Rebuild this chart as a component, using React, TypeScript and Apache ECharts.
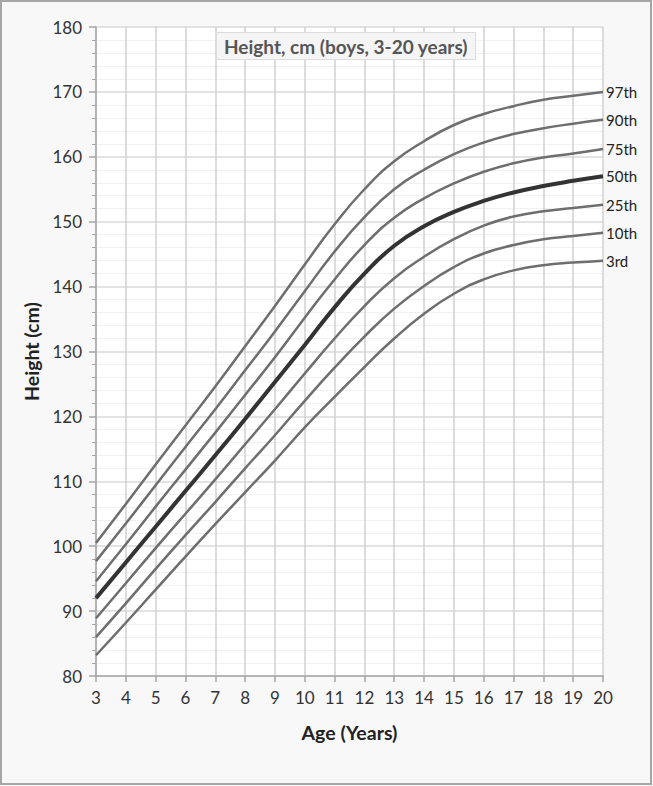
import React, { useEffect, useRef } from "react";
import * as echarts from "echarts";

const ages = [3, 4, 5, 6, 7, 8, 9, 10, 11, 12, 13, 14, 15, 16, 17, 18, 19, 20];
const p97 = [100.5, 106.5, 112.6, 118.6, 124.6, 130.8, 137.0, 143.4, 149.6, 155.0, 159.3, 162.4, 164.9, 166.6, 167.8, 168.8, 169.4, 170.0];
const p90 = [97.7, 103.5, 109.4, 115.3, 121.1, 127.1, 133.1, 139.3, 145.4, 150.7, 155.0, 158.0, 160.4, 162.2, 163.5, 164.4, 165.1, 165.7];
const p75 = [94.6, 100.3, 106.1, 111.8, 117.5, 123.3, 129.1, 135.2, 141.1, 146.4, 150.6, 153.6, 155.9, 157.7, 159.0, 159.9, 160.5, 161.2];
const p50 = [92.0, 97.5, 103.0, 108.5, 114.0, 119.6, 125.3, 131.0, 136.8, 142.0, 146.3, 149.3, 151.5, 153.2, 154.5, 155.5, 156.3, 157.0];
const p25 = [88.9, 94.3, 99.7, 105.0, 110.3, 115.7, 121.1, 126.6, 132.0, 137.0, 141.3, 144.6, 147.3, 149.4, 150.8, 151.6, 152.1, 152.6];
const p10 = [86.0, 91.2, 96.5, 101.7, 106.8, 112.0, 117.1, 122.4, 127.5, 132.3, 136.6, 140.1, 143.0, 145.1, 146.4, 147.3, 147.8, 148.3];
const p3 = [83.2, 88.2, 93.3, 98.4, 103.4, 108.3, 113.2, 118.3, 123.0, 127.6, 132.0, 135.8, 138.9, 141.1, 142.5, 143.3, 143.7, 144.0];

const seriesNames = ["97th", "90th", "75th", "50th", "25th", "10th", "3rd"];
const seriesValues = [p97, p90, p75, p50, p25, p10, p3];

const FONT = "Lato, 'Open Sans', sans-serif";

export default function App() {
  const ref = useRef<HTMLDivElement>(null);
  useEffect(() => {
    document.body.style.margin = "0";
    if (!ref.current) return;
    const chart = echarts.init(ref.current, null, { renderer: "svg" });
    const series = seriesNames.map((name, i) => {
      const isMid = name === "50th";
      return {
        name,
        type: "line",
        data: ages.map((a, j) => [a, seriesValues[i][j]]),
        smooth: true,
        symbol: "none",
        z: isMid ? 3 : 2,
        lineStyle: { color: isMid ? "#333333" : "#6e6e6e", width: isMid ? 4 : 2.5 },
        endLabel: {
          show: true,
          formatter: name,
          distance: 3,
          color: "#222",
          fontSize: 15,
          fontFamily: FONT,
        },
      };
    });
    chart.setOption({
      animation: false,
      backgroundColor: "#f8f8f8",
      textStyle: { fontFamily: FONT },
      title: {
        text: "Height, cm (boys, 3-20 years)",
        left: 216,
        top: 32,
        backgroundColor: "#f5f5f5",
        borderColor: "#dcdcdc",
        borderWidth: 1,
        padding: [5, 8, 4, 8],
        textStyle: { fontSize: 19, fontWeight: "bold", color: "#555", fontFamily: FONT },
      },
      graphic: [
        {
          type: "rect",
          shape: { x: 1, y: 1, width: 650, height: 783 },
          style: { fill: "none", stroke: "#a6a6a6", lineWidth: 2 },
          silent: true,
        },
      ],
      grid: {
        left: 96,
        right: 50,
        top: 27,
        bottom: 110,
        show: true,
        backgroundColor: "#ffffff",
        borderWidth: 0,
      },
      xAxis: {
        type: "value",
        min: 3,
        max: 20,
        interval: 1,
        name: "Age (Years)",
        nameLocation: "middle",
        nameGap: 46,
        nameTextStyle: { fontSize: 19.5, fontWeight: "bold", color: "#222", fontFamily: FONT },
        axisLine: { show: true, lineStyle: { color: "#a6a6a6", width: 1.5 } },
        axisTick: { show: true, length: 6, lineStyle: { color: "#a6a6a6", width: 1.5 } },
        axisLabel: { fontSize: 17, color: "#333", margin: 13, fontFamily: FONT },
        splitLine: { show: true, lineStyle: { color: "#d0d0d0", width: 1.5 } },
      },
      yAxis: {
        type: "value",
        min: 80,
        max: 180,
        interval: 10,
        name: "Height (cm)",
        nameLocation: "middle",
        nameGap: 50,
        nameTextStyle: { fontSize: 19.5, fontWeight: "bold", color: "#222", fontFamily: FONT },
        axisLine: { show: true, lineStyle: { color: "#a6a6a6", width: 1.5 } },
        axisTick: { show: true, length: 7, lineStyle: { color: "#a6a6a6", width: 1.5 } },
        minorTick: { show: true, splitNumber: 5, length: 4, lineStyle: { color: "#a6a6a6", width: 1 } },
        axisLabel: { fontSize: 17, color: "#333", margin: 14, fontFamily: FONT },
        splitLine: { show: true, lineStyle: { color: "#dadada", width: 1.5 } },
        minorSplitLine: { show: true, lineStyle: { color: "#f1f1f1", width: 1 } },
      },
      series,
    });
    return () => chart.dispose();
  }, []);
  return <div ref={ref} style={{ width: 653, height: 786 }} />;
}
